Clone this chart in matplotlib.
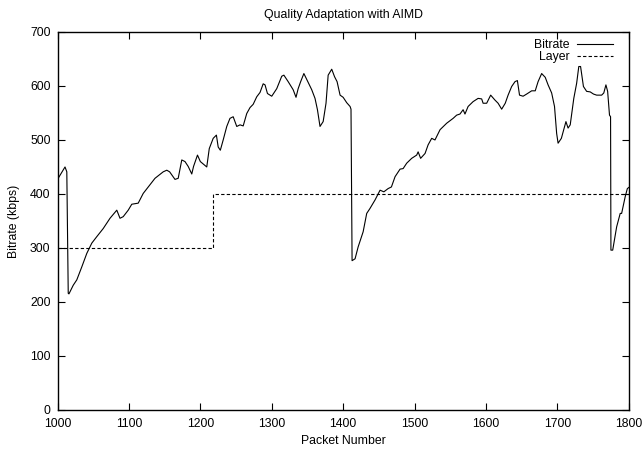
import matplotlib
matplotlib.use("Agg")
import matplotlib.pyplot as plt

plt.rcParams['font.family'] = ['Liberation Sans', 'DejaVu Sans']

packet = [1000, 1010.5, 1013, 1015, 1016, 1022, 1027, 1034, 1041, 1048, 1055, 1064,
          1073.5, 1083, 1087.5, 1092, 1099, 1104, 1113, 1120, 1129.5, 1136.5, 1148,
          1153, 1157, 1164.5, 1169, 1174, 1178.5, 1183, 1188, 1190.5, 1196, 1200,
          1209, 1212.5, 1218, 1222.5, 1225, 1228, 1232, 1237, 1241.5, 1246, 1251,
          1255.6, 1260, 1265, 1269.6, 1274, 1279, 1283.6, 1288, 1290.6, 1294, 1300,
          1307, 1314, 1317, 1323, 1330, 1334, 1337, 1340.5, 1345, 1349, 1356, 1360.6,
          1364, 1367.6, 1372, 1376, 1379, 1384, 1388, 1391.5, 1395.7, 1400, 1405,
          1409.7, 1411, 1412.5, 1416.7, 1421, 1428, 1433, 1437.5, 1444.7, 1451.7,
          1457, 1463, 1467.6, 1472.7, 1479.7, 1484, 1489, 1496, 1503, 1505, 1508.5,
          1514.7, 1519, 1524, 1528.6, 1535.7, 1545, 1554, 1559, 1563.6, 1568, 1570.6,
          1575, 1582, 1589, 1594, 1596, 1601, 1606.6, 1612.5, 1617, 1622, 1627, 1631,
          1636, 1640.7, 1644, 1647, 1652, 1657, 1664, 1669, 1673, 1678, 1683, 1687,
          1692, 1696, 1699, 1701, 1705.6, 1712, 1715, 1718, 1723, 1727, 1730, 1732.5,
          1736.5, 1741, 1746, 1750.6, 1755, 1762, 1765, 1768, 1770.4, 1773, 1774.5,
          1775, 1777.5, 1783, 1788, 1790, 1795, 1798, 1800]
bitrate = [427, 450, 441, 216, 215, 231, 241, 265, 290, 309, 321, 336,
           355, 370, 355, 358, 370, 381, 383, 401, 417, 429, 441,
           444, 441, 427, 429, 463, 460, 451, 437, 451, 472, 460,
           450, 484, 503, 509, 487, 481, 500, 525, 540, 543, 525,
           528, 526, 549, 560, 566, 580, 588, 604, 602, 586, 581,
           595, 618, 620, 608, 593, 579, 595, 608, 623, 612, 593, 577,
           556, 525, 534, 568, 620, 631, 617, 608, 583, 579, 569,
           562, 557, 276.5, 280, 302, 330, 364, 373, 389, 407,
           404, 410, 413, 432, 446, 447, 457, 466, 472, 478, 466,
           475, 491, 503, 500, 519, 531, 540, 546, 548, 556, 548,
           562, 571, 577, 576, 568, 568, 583, 574, 568, 557, 568, 583,
           599, 608, 610, 583, 581, 585, 591, 591, 608, 623, 616, 602,
           587, 562, 512, 494, 503, 534, 522, 528, 577, 605, 636, 636,
           599, 590, 589, 585, 583, 583, 587, 602, 590, 546, 543,
           296, 296, 339, 364, 364, 395, 410, 412]

layer_x = [1000, 1218, 1218, 1800]
layer_y = [300, 300, 400, 400]

FS = 8.8

fig = plt.figure(figsize=(6.42, 4.5), dpi=100)
ax = fig.add_axes([0.0896, 0.0889, 0.9794 - 0.0896, 0.929 - 0.0889])

ax.plot(packet, bitrate, color='black', lw=0.8, label='Bitrate')
ax.plot(layer_x, layer_y, color='black', lw=0.8, ls=(0, (3, 2)), label='Layer')

ax.set_xlim(1000, 1800)
ax.set_ylim(0, 700)
ax.set_xticks(range(1000, 1801, 100))
ax.set_yticks(range(0, 701, 100))
ax.tick_params(direction='in', length=5, width=0.8, top=True, right=True,
               labelsize=FS)
ax.tick_params(axis='x', pad=5.5)
ax.tick_params(axis='y', pad=5.0)
for s in ax.spines.values():
    s.set_linewidth(1.0)

ax.set_title('Quality Adaptation with AIMD', fontsize=FS, pad=10)
ax.set_xlabel('Packet Number', fontsize=FS, labelpad=4)
ax.set_ylabel('Bitrate (kbps)', fontsize=FS, labelpad=7)

ax.legend(loc='upper right', bbox_to_anchor=(0.972, 0.981), frameon=False,
          markerfirst=False, fontsize=FS, handlelength=2.9, handletextpad=0.65,
          labelspacing=0.0, borderpad=0, borderaxespad=0)

fig.savefig('out.png', dpi=100)
